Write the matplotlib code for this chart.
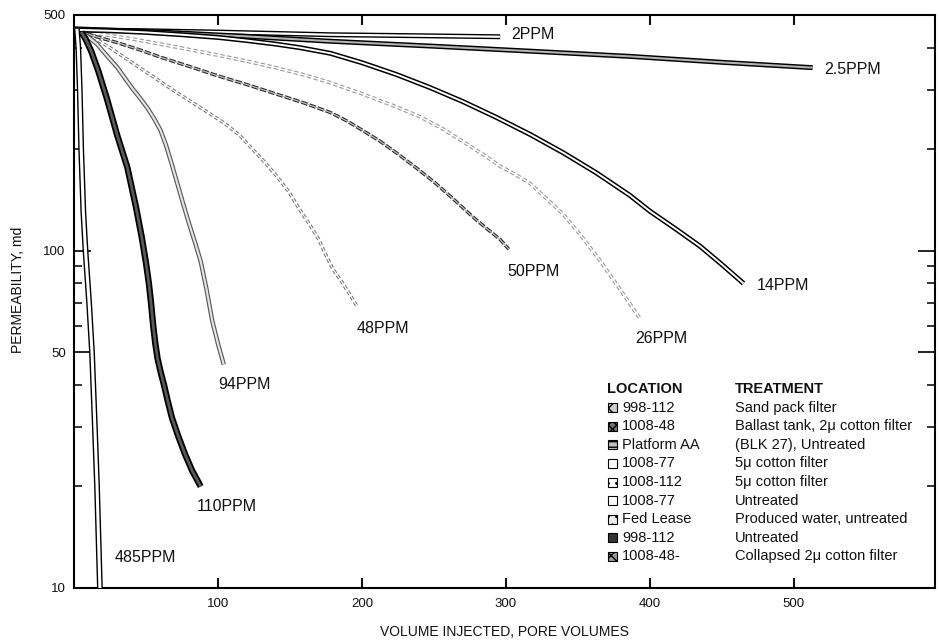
import matplotlib
matplotlib.use("Agg")
import matplotlib.pyplot as plt
from matplotlib.ticker import FixedLocator, NullFormatter, FixedFormatter
from matplotlib.patches import Rectangle

plt.rcParams['font.family'] = ['Liberation Sans', 'DejaVu Sans']

# ---- data ----
x_2 = [0, 50, 100, 178, 240, 296]
y_2 = [452, 449, 445, 437, 434, 431]

x_25 = [0, 60, 120, 178, 250, 320, 386, 450, 513]
y_25 = [455, 445, 432, 418, 404, 390, 377, 362, 349]

x_14 = [0, 25, 50, 75, 100, 120, 140, 157, 178, 200, 224, 247, 270, 293, 317,
        340, 363, 386, 400, 418, 435, 450, 465]
y_14 = [452, 449, 444, 437, 429, 420, 410, 400, 385, 361, 333, 305, 277, 249, 221,
        195, 170, 146, 131, 116, 103, 91, 80]

x_26 = [3, 20, 40, 60, 80, 100, 120, 140, 160, 178, 200, 224, 240, 256, 273, 285,
        296, 307, 317, 328, 340, 352, 365, 380, 393]
y_26 = [448, 438, 425, 410, 395, 380, 365, 349, 332, 315, 292, 267, 250, 230, 207, 192,
        178, 168, 158, 143, 128, 111, 94, 76, 63]

x_50 = [3, 15, 30, 45, 60, 80, 100, 120, 140, 160, 178, 190, 200, 212, 224, 237,
        250, 263, 277, 287, 296, 302]
y_50 = [448, 432, 414, 395, 375, 352, 330, 311, 292, 274, 257, 242, 228, 212, 195, 177,
        160, 143, 126, 116, 108, 101]

x_48 = [5, 15, 25, 40, 55, 70, 87, 105, 115, 124, 132, 140, 149, 157, 164, 170,
        175, 180, 185, 190, 197]
y_48 = [445, 425, 400, 362, 328, 297, 267, 238, 220, 200, 184, 168, 150, 132, 119, 108,
        97, 88, 82, 76, 68]

x_94 = [5, 10, 16, 23, 30, 36, 41, 46, 51, 56, 60, 64, 68, 72, 76, 80, 84, 88, 92,
        96, 100, 104]
y_94 = [445, 430, 410, 378, 350, 322, 301, 283, 265, 245, 228, 205, 180, 157, 137, 120,
        106, 93, 77, 62, 53, 46]

x_110 = [5, 8, 12, 17, 23, 30, 37, 43, 47, 50, 52, 53.5, 55, 56.5, 58, 60, 62.5, 65,
         68, 72, 77, 82, 88]
y_110 = [445, 425, 390, 340, 281, 220, 177, 135, 110, 92, 80, 70, 60, 53, 48, 44, 40, 36,
         32, 28.5, 25, 22.3, 20]

x_485 = [2, 3, 4, 5, 6.5, 8, 10.5, 12.5, 14.5, 16, 18]
y_485 = [455, 400, 300, 200, 130, 100, 70, 50, 30, 20, 10]

curve_labels = ["2PPM", "2.5PPM", "14PPM", "26PPM", "50PPM", "48PPM", "94PPM", "110PPM", "485PPM"]
label_x = [304, 521, 474, 390, 301, 196, 100, 85, 28]
label_y = [437, 344, 79, 55, 87, 59, 40, 17.4, 12.3]

x_ticks = [100, 200, 300, 400, 500]
y_major = [10, 50, 100, 500]
y_minor = [20, 30, 40, 60, 70, 80, 90, 200, 300, 400]

legend_location = ["998-112", "1008-48", "Platform AA", "1008-77", "1008-112",
                   "1008-77", "Fed Lease", "998-112", "1008-48-"]
legend_treatment = ["Sand pack filter", "Ballast tank, 2\u03bc cotton filter",
                    "(BLK 27), Untreated", "5\u03bc cotton filter", "5\u03bc cotton filter",
                    "Untreated", "Produced water, untreated", "Untreated",
                    "Collapsed 2\u03bc cotton filter"]

# ---- figure ----
W, H = 939, 641
fig = plt.figure(figsize=(W / 100, H / 100), dpi=100)
L, R, T, B = 74, 935, 15, 588
ax = fig.add_axes([L / W, 1 - B / H, (R - L) / W, (B - T) / H])
ax.set_yscale('log')
ax.set_xlim(0, 598)
ax.set_ylim(10, 500)


def band(x, y, oc, ow, ic, iw, ols='-', ils='-', z=2):
    ax.plot(x, y, color=oc, lw=ow, ls=ols, solid_joinstyle='round',
            solid_capstyle='butt', zorder=z)
    if ic is not None:
        ax.plot(x, y, color=ic, lw=iw, ls=ils, solid_joinstyle='round',
                solid_capstyle='butt', zorder=z + 0.1)


# dotted / grey curves
band(x_26, y_26, '0.6', 2.6, 'white', 1.0, ols=(0, (1.2, 0.7)), z=2)
band(x_48, y_48, '0.45', 2.4, 'white', 0.9, ols=(0, (1.2, 0.7)), z=2.2)
band(x_50, y_50, '0.15', 2.4, '0.75', 0.9, ols=(0, (2.0, 0.6)), z=2.4)
# banded curves
band(x_94, y_94, '0.35', 3.2, '0.9', 1.5, z=3)
band(x_2, y_2, 'black', 3.6, 'white', 1.6, z=3.2)
band(x_25, y_25, 'black', 3.6, '0.7', 1.5, z=3.4)
band(x_14, y_14, 'black', 3.6, 'white', 1.4, z=3.6)
band(x_485, y_485, 'black', 4.2, 'white', 2.2, z=3.8)
band(x_110, y_110, 'black', 4.6, '0.35', 2.0, z=4)

for t, lx, ly in zip(curve_labels, label_x, label_y):
    ax.text(lx, ly, t, fontsize=11.5, ha='left', va='center', color='#111111')

# ---- axes styling ----
for s in ax.spines.values():
    s.set_linewidth(1.5)
ax.xaxis.set_major_locator(FixedLocator(x_ticks))
ax.xaxis.set_major_formatter(FixedFormatter([str(v) for v in x_ticks]))
ax.xaxis.set_minor_locator(FixedLocator([]))
ax.yaxis.set_major_locator(FixedLocator(y_major))
ax.yaxis.set_major_formatter(FixedFormatter([str(v) for v in y_major]))
ax.yaxis.set_minor_locator(FixedLocator(y_minor))
ax.yaxis.set_minor_formatter(NullFormatter())
ax.tick_params(axis='x', which='major', direction='in', length=7, width=1.5,
               top=True, bottom=True, labelsize=9.5, pad=7, colors='#111111')
ax.tick_params(axis='y', which='major', direction='in', length=12, width=1.3,
               left=True, right=True, labelsize=9.5, pad=6, colors='#111111')
ax.tick_params(axis='y', which='minor', direction='in', length=6, width=1.1,
               left=True, right=True)

ax.set_xlabel("VOLUME INJECTED, PORE VOLUMES", fontsize=10, color='#111111', va='center')
ax.xaxis.set_label_coords(0.5, -(632 - B) / (B - T))
ax.set_ylabel("PERMEABILITY, md", fontsize=10, color='#111111', va='center')
ax.yaxis.set_label_coords(-(L - 18) / (R - L), (B - 290) / (B - T))


# ---- legend (pixel positions converted to figure fraction) ----
def fx(px):
    return px / W


def fy(py):
    return 1 - py / H


fig.text(fx(607), fy(389), "LOCATION", fontsize=10.5, fontweight='bold',
         ha='left', va='center', color='#111111')
fig.text(fx(735), fy(389), "TREATMENT", fontsize=10.5, fontweight='bold',
         ha='left', va='center', color='#111111')

swatch_face = ['0.8', '0.45', '0.75', 'white', 'white', 'white', '0.92', '0.2', '0.6']
swatch_hatch = ['xx', 'xxxx', '---', None, '..', None, '..', None, 'xxx']
row_step = 18.6
for i, (loc, trt) in enumerate(zip(legend_location, legend_treatment)):
    py = 389 + (i + 1) * row_step
    rect = Rectangle((fx(608), fy(py + 4.5)), 9 / W, 9 / H, transform=fig.transFigure,
                     facecolor=swatch_face[i], edgecolor='black', lw=0.8,
                     hatch=swatch_hatch[i])
    fig.patches.append(rect)
    fig.text(fx(622), fy(py), loc, fontsize=10.5, ha='left', va='center', color='#111111')
    fig.text(fx(735), fy(py), trt, fontsize=10.5, ha='left', va='center', color='#111111')

fig.savefig("out.png", dpi=100)
